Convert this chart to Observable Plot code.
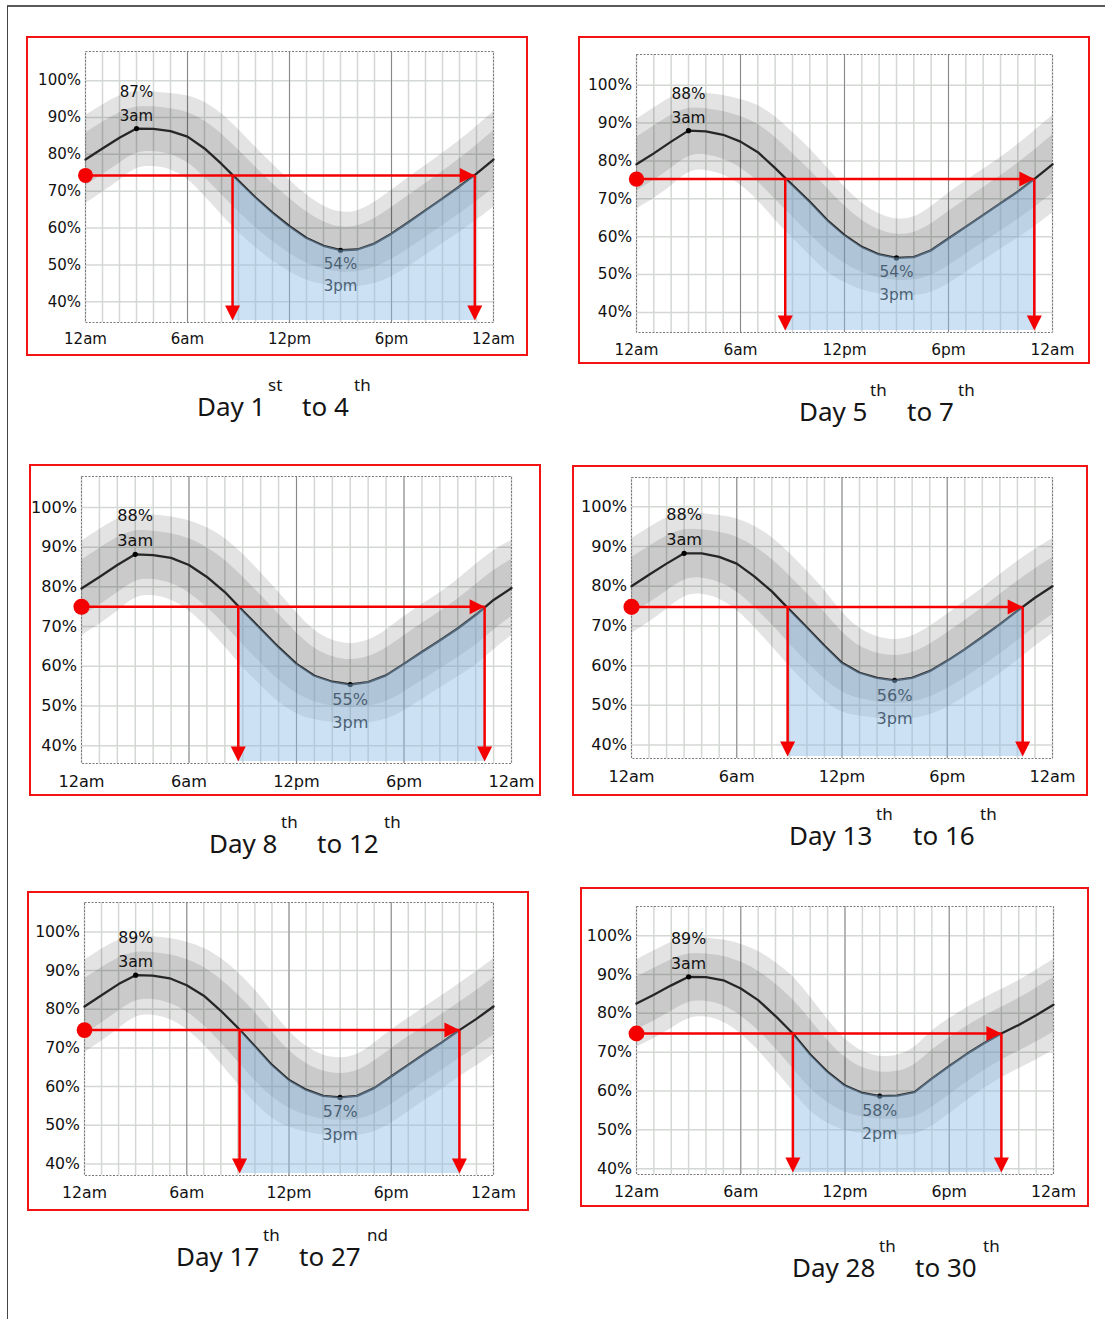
<!DOCTYPE html>
<html>
<head>
<meta charset="utf-8">
<script src="https://cdn.jsdelivr.net/npm/d3@7"></script>
<script src="https://cdn.jsdelivr.net/npm/@observablehq/plot@0.6"></script>
<style>
  body { margin: 0; background: #fff; }
  #page { position: relative; width: 1105px; height: 1319px; overflow: hidden; background: #fff; }
  .panel { position: absolute; }
  .panel svg { position: absolute; left: 0; top: 0; }
  .redbox { position: absolute; border: 2px solid #f21414; box-sizing: border-box; pointer-events: none; }
</style>
</head>
<body>
<div id="page"></div>
<script>
// ---------------- DATA ----------------
const hours = [0,1,2,3,4,5,6,7,8,9,10,11,12,13,14,15,16,17,18,19,20,21,22,23,24];
const humidityDay1to4   = [78.6,81.6,84.5,87,86.9,86.3,84.8,81.6,77.4,72.8,68.3,64.2,60.5,57.3,55.2,54,54.2,55.8,58.5,61.6,64.8,68,71.3,74.8,78.6];
const humidityDay5to7   = [79.1,82,85.1,88,87.8,86.9,85.1,82.3,78.1,73.6,69.2,64.4,60.4,57.3,55.3,54.4,54.6,56.4,59.5,62.6,65.7,68.8,71.9,75.4,79.1];
const humidityDay8to12  = [79.6,82.5,85.5,88.2,88,87.3,85.5,82.5,78.7,74,69.4,64.8,60.6,57.6,56.1,55.4,56,57.7,60.6,63.6,66.5,69.5,72.9,76.7,79.7];
const humidityDay13to16 = [80,82.9,85.7,88.3,88.3,87.4,85.7,82.5,78.7,74.1,69.6,65,60.7,58.2,56.9,56.3,56.9,58.6,61.2,64.1,67.2,70.4,73.8,77.1,80];
const humidityDay17to27 = [80.7,83.6,86.5,88.8,88.7,88,86.2,83.5,79.6,75.2,70.4,65.6,61.7,59.2,57.6,57.2,57.6,59.6,62.6,65.6,68.6,71.5,74.6,77.5,80.7];
const humidityDay28to30 = [82.5,84.8,87.2,89.4,89.3,88.5,86.4,83.4,79.3,74.8,69.4,64.9,61.4,59.5,58.7,58.8,59.7,63.2,66.4,69.5,72.3,74.8,77,79.5,82.2];

const peakValues = [87, 88, 88, 88, 89, 89];
const peakHours  = [3, 3, 3, 3, 3, 3];
const peakTimes  = ["3am", "3am", "3am", "3am", "3am", "3am"];
const minValues  = [54, 54, 55, 56, 57, 58];
const minHours   = [15, 15, 15, 15, 15, 14];
const minTimes   = ["3pm", "3pm", "3pm", "3pm", "3pm", "2pm"];

const thresholds = [74.3, 75.2, 75.0, 74.8, 74.6, 74.8];
const crossStart = [8.65, 8.58, 8.75, 8.9, 9.1, 9.0];
const crossEnd   = [22.9, 22.95, 22.5, 22.3, 22.0, 21.0];

const yTicks = [40, 50, 60, 70, 80, 90, 100];
const xTickHours = [0, 6, 12, 18, 24];
const xTickLabels = ["12am", "6am", "12pm", "6pm", "12am"];
const majorHours = [6, 12, 18];

const captionStartDay    = ["1", "5", "8", "13", "17", "28"];
const captionStartSuffix = ["st", "th", "th", "th", "th", "th"];
const captionEndDay      = ["4", "7", "12", "16", "27", "30"];
const captionEndSuffix   = ["th", "th", "th", "th", "nd", "th"];

const series = [humidityDay1to4, humidityDay5to7, humidityDay8to12, humidityDay13to16, humidityDay17to27, humidityDay28to30];

// ---------------- LAYOUT (page pixels) ----------------
const layout = [
  {box:[27,37,527,355],   frame:[85,51,493,322],   y:[34.4,107.9], s:1.0,   cap:[197,268,302,354,416]},
  {box:[579,37,1089,363], frame:[636,54,1052,332], y:[34.7,108.1], s:1.024, cap:[799,870,907,958,421]},
  {box:[30,465,540,795],  frame:[81,476,511,763],  y:[35.5,107.8], s:1.076, cap:[209,281,317,384,853]},
  {box:[573,466,1087,795],frame:[631,477,1052,758],y:[36.6,107.4], s:1.076, cap:[789,876,913,980,845]},
  {box:[28,892,528,1210], frame:[84,902,493,1175], y:[37.0,107.6], s:1.046, cap:[176,263,299,367,1266]},
  {box:[581,888,1088,1206],frame:[636,906,1053,1174],y:[38.5,107.5],s:1.054, cap:[792,879,915,983,1277]}
];

const outerHalf = 10, innerHalf = 6;

const arrowDown = {draw(ctx){ ctx.moveTo(0,0); ctx.lineTo(-7.5,-15); ctx.lineTo(7.5,-15); ctx.closePath(); }};
const arrowRight = {draw(ctx){ ctx.moveTo(0,0); ctx.lineTo(-15,-7.5); ctx.lineTo(-15,7.5); ctx.closePath(); }};

const page = document.getElementById("page");

// overlay: page frame lines + captions
const over = d3.select(page).append("svg")
  .attr("width", 1105).attr("height", 1319)
  .style("position", "absolute").style("left", 0).style("top", 0);
over.append("line").attr("x1", 7).attr("x2", 1105).attr("y1", 6).attr("y2", 6).attr("stroke", "#222").attr("stroke-width", 1.6);
over.append("line").attr("x1", 7.5).attr("x2", 7.5).attr("y1", 6).attr("y2", 1319).attr("stroke", "#444").attr("stroke-width", 1);

layout.forEach((L, i) => {
  const [dx, sx, tx, s2x, base] = L.cap;
  const g = over.append("g").attr("font-family", "'Noto Sans', sans-serif").attr("fill", "#151515");
  g.append("text").attr("x", dx).attr("y", base).attr("font-size", 26).text("Day " + captionStartDay[i]);
  g.append("text").attr("x", sx).attr("y", base - 25).attr("font-size", 17).text(captionStartSuffix[i]);
  g.append("text").attr("x", tx).attr("y", base).attr("font-size", 26).text("to " + captionEndDay[i]);
  g.append("text").attr("x", s2x).attr("y", base - 25).attr("font-size", 17).text(captionEndSuffix[i]);
});

function buildPanel(i) {
  const L = layout[i];
  const [bl, bt, br, bb] = L.box, [fl, ft, fr, fb] = L.frame;
  const [y0, y1] = L.y;
  const s = L.s;
  const vals = series[i];
  const data = hours.map((h, j) => ({h, v: vals[j]}));
  const pxH = (fr - fl) / 24, pxV = (fb - ft) / (y1 - y0);
  const bandData = data.map((d, j) => {
    const a = data[Math.max(0, j - 1)], b = data[Math.min(data.length - 1, j + 1)];
    const k = (b.v - a.v) / (b.h - a.h) * pxV / pxH;
    return {h: d.h, v: d.v, f: Math.sqrt(1 + k * k)};
  });
  const bottom = y0 + 2 / pxV;
  const t = thresholds[i], cs = crossStart[i], ce = crossEnd[i];
  const blue = [{h: cs, v: t}, ...data.filter(d => d.h > cs && d.h < ce), {h: ce, v: t}];
  const peak = {h: peakHours[i], v: vals[hours.indexOf(peakHours[i])], a: peakValues[i] + "%", b: peakTimes[i]};
  const low = {h: minHours[i], v: vals[hours.indexOf(minHours[i])], a: minValues[i] + "%", b: minTimes[i]};
  const fs = 15 * s;
  const txt = "#111";

  const svg = Plot.plot({
    width: br - bl, height: bb - bt,
    marginLeft: fl - bl, marginRight: br - fr, marginTop: ft - bt, marginBottom: bb - fb,
    x: {domain: [0, 24], axis: null},
    y: {domain: [y0, y1], axis: null},
    style: {fontFamily: "'DejaVu Sans', sans-serif", background: "transparent", overflow: "visible"},
    marks: [
      Plot.ruleX(hours, {x: d => d, stroke: "#d4d8d4", strokeWidth: 1.5}),
      Plot.ruleY(yTicks, {y: d => d, stroke: "#d4d8d4", strokeWidth: 1.5}),
      Plot.ruleX(majorHours, {x: d => d, stroke: "#8a8a8a", strokeWidth: 1}),
      Plot.areaY(bandData, {x: "h", y1: d => d.v - outerHalf * d.f, y2: d => d.v + outerHalf * d.f, fill: "#000", fillOpacity: 0.11, curve: "basis"}),
      Plot.areaY(bandData, {x: "h", y1: d => d.v - innerHalf * d.f, y2: d => d.v + innerHalf * d.f, fill: "#000", fillOpacity: 0.11, curve: "basis"}),
      Plot.frame({stroke: "#7a7a7a", strokeDasharray: "2,1.5"}),
      Plot.line(data, {x: "h", y: "v", stroke: "#262626", strokeWidth: 2.3}),
      Plot.dot([peak, low], {x: "h", y: "v", r: 2.6, fill: "#000"}),
      Plot.text([peak], {x: "h", y: "v", text: "a", dy: -36 * s, fontSize: fs, fill: txt}),
      Plot.text([peak], {x: "h", y: "v", text: "b", dy: -12.5 * s, fontSize: fs, fill: txt}),
      Plot.text([low], {x: "h", y: "v", text: "a", dy: 14 * s, fontSize: fs, fill: txt}),
      Plot.text([low], {x: "h", y: "v", text: "b", dy: 36 * s, fontSize: fs, fill: txt}),
      Plot.areaY(blue, {x: "h", y1: () => bottom, y2: "v", fill: "#8fbde6", fillOpacity: 0.45}),
      Plot.link([{xa: 0, ya: t, xb: ce, yb: t}], {x1: "xa", y1: "ya", x2: "xb", y2: "yb", stroke: "#f50000", strokeWidth: 2.5}),
      Plot.link([cs, ce].map(x => ({x, ya: t, yb: bottom + 8 / pxV})), {x1: "x", x2: "x", y1: "ya", y2: "yb", stroke: "#f50000", strokeWidth: 2.5}),
      Plot.dot([{h: ce, v: t}], {x: "h", y: "v", symbol: arrowRight, fill: "#f50000", stroke: "none"}),
      Plot.dot([cs, ce].map(h => ({h, v: bottom})), {x: "h", y: "v", symbol: arrowDown, fill: "#f50000", stroke: "none"}),
      Plot.dot([{h: 0, v: t}], {x: "h", y: "v", r: 7.5 * s, fill: "#f50000", stroke: "none"}),
      Plot.text(yTicks, {x: () => 0, y: d => d, text: d => d + "%", textAnchor: "end", dx: -4.5, fontSize: fs, fill: txt}),
      Plot.text(xTickHours, {x: d => d, y: () => y0, text: (d, k) => xTickLabels[k], dy: 17 * s, fontSize: fs, fill: txt})
    ]
  });

  const div = document.createElement("div");
  div.className = "panel";
  div.style.left = bl + "px"; div.style.top = bt + "px";
  div.style.width = (br - bl) + "px"; div.style.height = (bb - bt) + "px";
  div.appendChild(svg);
  page.appendChild(div);

  const box = document.createElement("div");
  box.className = "redbox";
  box.style.left = (bl - 1) + "px"; box.style.top = (bt - 1) + "px";
  box.style.width = (br - bl + 2) + "px"; box.style.height = (bb - bt + 2) + "px";
  page.appendChild(box);
}

layout.forEach((_, i) => buildPanel(i));
</script>
</body>
</html>
